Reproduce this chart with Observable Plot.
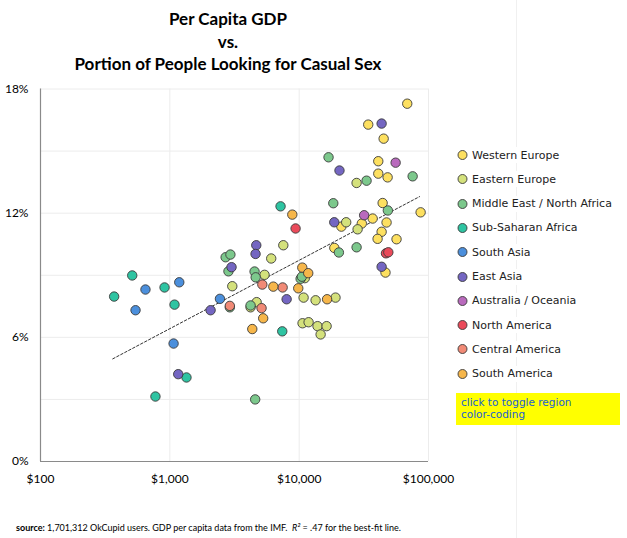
<!DOCTYPE html>
<html>
<head>
<meta charset="utf-8">
<script src="https://cdn.jsdelivr.net/npm/d3@7"></script>
<script src="https://cdn.jsdelivr.net/npm/@observablehq/plot@0.6"></script>
<style>
  body { margin: 0; background: #fff; }
  #wrap { position: relative; width: 627px; height: 538px; overflow: hidden; background: #fff; }
  #chart { position: absolute; left: 0; top: 0; }
  #vline { position: absolute; left: 516px; top: 0; width: 1px; height: 538px; background: #f0f0f0; }
  #title { position: absolute; left: 0; top: 8px; width: 456px; text-align: center;
           font-family: Lato, sans-serif; font-weight: bold; font-size: 17px; line-height: 22.5px; color: #000; }
  .leg { position: absolute; left: 456px; height: 16px; font-family: "DejaVu Sans", sans-serif; font-size: 11px;
         color: #222; white-space: nowrap; display: flex; align-items: center; background: #fff; padding-right: 2px; }
  .leg svg { margin-right: 2px; }
  #toggle { position: absolute; left: 456px; top: 393px; width: 164px; height: 32px; background: #ffff00;
            font-family: "DejaVu Sans", sans-serif; font-size: 10.5px; line-height: 11.5px; color: #1a5fd0;
            box-sizing: border-box; padding: 4px 0 0 5px; }
  #foot { position: absolute; left: 16px; top: 522px; font-family: Lato, sans-serif; font-size: 9px; color: #000; white-space: nowrap; }
</style>
</head>
<body>
<div id="wrap">
  <div id="vline"></div>
  <div id="chart"></div>
  <div id="title"></div>
  <div id="legend"></div>
  <div id="toggle">click to toggle region<br>color-coding</div>
  <div id="foot"><b>source:</b> 1,701,312 OkCupid users. GDP per capita data from the IMF.&nbsp; <i>R²</i> = .47 for the best-fit line.</div>
</div>
<script>
// ---- data (GDP per capita in $, share of people looking for casual sex in %) ----
const titleLines = ["Per Capita GDP", "vs.", "Portion of People Looking for Casual Sex"];
const regions = ["Western Europe", "Eastern Europe", "Middle East / North Africa", "Sub-Saharan Africa",
                 "South Asia", "East Asia", "Australia / Oceania", "North America", "Central America", "South America"];
const regionColors = ["#fde060", "#d4e17c", "#7cc88c", "#2ec4a2", "#4b8fdc", "#7466c2", "#b96abd", "#ea4a5a", "#f18a76", "#f6b64a"];

const westernEurope = [[68500,17.29],[34200,16.28],[45000,15.6],[40900,14.51],[40900,13.91],[48300,13.73],
  [44200,12.49],[86900,12.04],[37000,11.74],[30500,11.5],[21200,11.35],[47400,11.55],[43400,11.1],
  [40400,10.76],[56600,10.74],[18700,10.32],[46500,9.13]];
const easternEurope = [[27800,13.46],[23100,11.56],[28300,11.22],[7540,10.45],[6080,9.81],[5400,9.02],
  [3040,8.47],[11060,8.86],[10820,7.92],[13400,7.79],[19100,7.92],[4690,7.7],[4210,7.45],[10620,6.68],
  [11830,6.73],[13870,6.54],[16300,6.54],[14650,6.14]];
const middleEast = [[16870,14.7],[33200,13.57],[75400,13.78],[18360,12.48],[48500,12.13],[20280,10.1],
  [27800,10.35],[2700,9.87],[2940,10.0],[2840,9.19],[4520,9.18],[4610,8.9],[10260,8.83],[10500,8.93],
  [4210,7.54],[4570,3.0],[2910,7.45]];
const subSaharan = [[7180,12.33],[512,8.99],[910,8.41],[371,7.97],[1087,7.58],[7400,6.29],[1345,4.06],[774,3.14]];
const southAsia = [[1183,8.66],[648,8.31],[543,7.31],[2440,7.86],[1069,5.7]];
const eastAsia = [[43400,16.33],[20500,14.06],[18680,11.56],[4660,10.45],[4600,10.03],[3000,9.39],
  [8000,7.84],[43400,9.41],[2066,7.31],[1161,4.22]];
const oceania = [[55700,14.44],[31800,11.9]];
const northAmerica = [[46900,10.06],[48900,10.11],[9380,11.26]];
const centralAmerica = [[5190,8.55],[7450,8.41],[2910,7.52],[5120,7.41]];
const southAmerica = [[8850,11.93],[10570,9.37],[11750,9.1],[6310,8.45],[9840,8.37],[16440,7.84],[5270,6.92],[4340,6.4]];

// best-fit line end points
const fitGdp = [362, 85300];
const fitPct = [4.96, 12.8];

const xTicks = [100, 1000, 10000, 100000];
const yTicks = [0, 6, 12, 18];
const yGrid = [3, 6, 9, 12, 15, 18];

// ---- build ----
const groups = [westernEurope, easternEurope, middleEast, subSaharan, southAsia, eastAsia, oceania, northAmerica, centralAmerica, southAmerica];
const points = groups.flatMap((g, i) => g.map(([gdp, pct]) => ({gdp, pct, region: regions[i]})));
const fit = fitGdp.map((g, i) => ({gdp: g, pct: fitPct[i]}));

const plot = Plot.plot({
  width: 627,
  height: 538,
  marginLeft: 40,
  marginRight: 199,
  marginTop: 88.5,
  marginBottom: 77,
  style: {fontFamily: "Lato, sans-serif", fontSize: "12px", color: "#000", background: "transparent"},
  x: {type: "log", domain: [100, 100000], label: null},
  y: {domain: [0, 18], label: null},
  color: {domain: regions, range: regionColors},
  marks: [
    Plot.ruleY(yGrid, {stroke: "#ececec", strokeWidth: 1}),
    Plot.ruleX(xTicks.slice(1), {stroke: "#ececec", strokeWidth: 1}),
    Plot.ruleX([xTicks[0]], {stroke: "#8a8a8a", strokeWidth: 1.2}),
    Plot.ruleY([yTicks[0]], {stroke: "#8a8a8a", strokeWidth: 1.2}),
    Plot.axisX({ticks: xTicks, tickSize: 0, tickPadding: 13, tickFormat: d => "$" + d3.format(",")(d), fontSize: 12, label: null}),
    Plot.axisY({ticks: yTicks, tickSize: 0, tickPadding: 12, tickFormat: d => d + "%", fontSize: 12, label: null}),
    Plot.line(fit, {x: "gdp", y: "pct", stroke: "#333", strokeWidth: 1, strokeDasharray: "2.5,2"}),
    Plot.dot(points, {x: "gdp", y: "pct", fill: "region", r: 4.7, stroke: "#3a3a3a", strokeWidth: 0.9, fillOpacity: 1})
  ]
});
document.getElementById("chart").appendChild(plot);

document.getElementById("title").innerHTML = titleLines.join("<br>");

const legend = document.getElementById("legend");
regions.forEach((name, i) => {
  const d = document.createElement("div");
  d.className = "leg";
  d.style.top = (155 + i * 24.3 - 8) + "px";
  d.innerHTML = `<svg width="14" height="14"><circle cx="6.5" cy="7" r="4.5" fill="${regionColors[i]}" stroke="#3a3a3a" stroke-width="0.9"/></svg>${name}`;
  legend.appendChild(d);
});
</script>
</body>
</html>
